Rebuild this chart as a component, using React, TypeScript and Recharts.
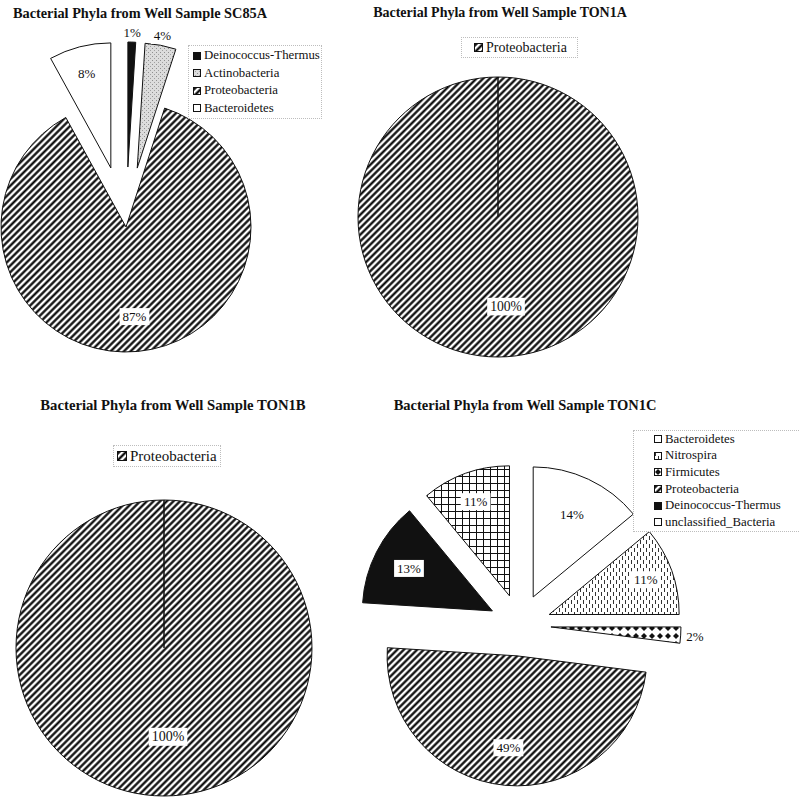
import React from "react";
import { PieChart, Pie, Cell, Legend } from "recharts";

const SERIF = "'Liberation Serif', 'Times New Roman', serif";

// sample SC85A
const sc85aPhyla = ["Deinococcus-Thermus", "Actinobacteria", "Proteobacteria", "Bacteroidetes"];
const sc85aPct = [1, 4, 87, 8];
// sample TON1A
const ton1aPhyla = ["Proteobacteria"];
const ton1aPct = [100];
// sample TON1B
const ton1bPhyla = ["Proteobacteria"];
const ton1bPct = [100];
// sample TON1C
const ton1cPhyla = [
  "Bacteroidetes",
  "Nitrospira",
  "Firmicutes",
  "Proteobacteria",
  "Deinococcus-Thermus",
  "unclassified_Bacteria",
];
const ton1cPct = [14, 11, 2, 49, 13, 11];

const phylumFill: Record<string, string> = {
  "Deinococcus-Thermus": "#111",
  Actinobacteria: "url(#pat-stipple)",
  Proteobacteria: "url(#pat-stripes)",
  Bacteroidetes: "#fff",
  Nitrospira: "url(#pat-vdash)",
  Firmicutes: "url(#pat-diamond)",
  unclassified_Bacteria: "url(#pat-grid)",
};

type Panel = {
  id: string;
  title: string;
  titleX: number;
  titleY: number;
  titleSize: number;
  names: string[];
  values: number[];
  cx: number;
  cy: number;
  r: number;
  explode: number[];
  labelAt: number[];
  labelShift: number;
  labelSize: number;
  legend: { left: number; top: number; width: number; font: number; row: number; swatch: number; padL: number; padT: number };
};

const panels: Panel[] = [
  {
    id: "sc85a",
    title: "Bacterial Phyla from Well Sample SC85A",
    titleX: 140,
    titleY: 13,
    titleSize: 14.3,
    names: sc85aPhyla,
    values: sc85aPct,
    cx: 126,
    cy: 227,
    r: 125,
    explode: [60, 60, 0, 61],
    labelAt: [1.08, 1.08, 0.72, 0.78],
    labelShift: 0,
    labelSize: 13,
    legend: { left: 188, top: 45, width: 134, font: 12.8, row: 17.5, swatch: 8, padL: 4, padT: 1 },
  },
  {
    id: "ton1a",
    title: "Bacterial Phyla from Well Sample TON1A",
    titleX: 500,
    titleY: 13,
    titleSize: 14,
    names: ton1aPhyla,
    values: ton1aPct,
    cx: 498,
    cy: 217,
    r: 140,
    explode: [0],
    labelAt: [0.64],
    labelShift: 8,
    labelSize: 13.6,
    legend: { left: 461, top: 37, width: 117, font: 14, row: 19, swatch: 9, padL: 12, padT: 0 },
  },
  {
    id: "ton1b",
    title: "Bacterial Phyla from Well Sample TON1B",
    titleX: 173,
    titleY: 405,
    titleSize: 14.7,
    names: ton1bPhyla,
    values: ton1bPct,
    cx: 164,
    cy: 648,
    r: 148,
    explode: [0],
    labelAt: [0.6],
    labelShift: 4,
    labelSize: 14,
    legend: { left: 113, top: 445, width: 108, font: 15, row: 20, swatch: 10, padL: 3, padT: 0 },
  },
  {
    id: "ton1c",
    title: "Bacterial Phyla from Well Sample TON1C",
    titleX: 525,
    titleY: 405,
    titleSize: 14.5,
    names: ton1cPhyla,
    values: ton1cPct,
    cx: 520,
    cy: 625,
    r: 130,
    explode: [31, 31, 31, 31, 31, 31],
    labelAt: [0.7, 0.79, 1.11, 0.71, 0.72, 0.77],
    labelShift: 0,
    labelSize: 13,
    legend: { left: 633, top: 430, width: 170, font: 12.8, row: 16.6, swatch: 8, padL: 20, padT: 0 },
  },
];

const RAD = Math.PI / 180;

function LegendBox({ p }: { p: Panel }) {
  const L = p.legend;
  return (
    <div
      style={{
        border: "1px dotted #bdbdbd",
        padding: `${L.padT}px 2px ${L.padT}px ${L.padL}px`,
        background: "#fff",
        fontFamily: SERIF,
        fontSize: L.font,
        color: "#111",
        boxSizing: "border-box",
        width: L.width,
      }}
    >
      {p.names.map((n) => (
        <div key={n} style={{ display: "flex", alignItems: "center", height: L.row, whiteSpace: "nowrap" }}>
          <svg width={L.swatch} height={L.swatch} style={{ marginRight: 3, flex: "none" }}>
            <rect x={0.5} y={0.5} width={L.swatch - 1} height={L.swatch - 1} fill={phylumFill[n]} stroke="#111" />
          </svg>
          {n}
        </div>
      ))}
    </div>
  );
}

function SampleChart({ p }: { p: Panel }) {
  const total = p.values.reduce((a, b) => a + b, 0);
  const data = p.names.map((name, i) => ({ name, value: p.values[i] }));
  let acc = 0;
  const mids = p.values.map((v) => {
    const m = ((acc + v / 2) / total) * 360;
    acc += v;
    return m;
  });

  const makeLabel = (slice: number) => (props: any) => {
    const idx = props.index ?? p.names.indexOf(props.name);
    if (idx !== slice) return null;
    const dist = props.outerRadius * p.labelAt[slice];
    const x = props.cx + dist * Math.cos(-props.midAngle * RAD) + p.labelShift;
    const y = props.cy + dist * Math.sin(-props.midAngle * RAD);
    const text = `${props.value}%`;
    // digits ~0.5em, percent sign ~0.83em, plus a little padding
    const w = ((text.length - 1) * 0.5 + 0.83) * p.labelSize + 6;
    const h = p.labelSize + 4;
    return (
      <g key={`lbl-${slice}`}>
        <rect x={x - w / 2} y={y - h / 2} width={w} height={h} fill="#fff" />
        <text
          x={x}
          y={y}
          textAnchor="middle"
          dominantBaseline="central"
          fontFamily={SERIF}
          fontSize={p.labelSize}
          fill="#111"
        >
          {text}
        </text>
      </g>
    );
  };

  return (
    <div style={{ position: "absolute", left: 0, top: 0 }}>
      <PieChart width={800} height={798} margin={{ top: 0, right: 0, bottom: 0, left: 0 }}>
        {p.names.map((_, s) => (
          <Pie
            key={s}
            data={data}
            dataKey="value"
            nameKey="name"
            cx={p.cx + p.explode[s] * Math.sin(mids[s] * RAD)}
            cy={p.cy - p.explode[s] * Math.cos(mids[s] * RAD)}
            outerRadius={p.r}
            startAngle={90}
            endAngle={-270}
            labelLine={false}
            label={makeLabel(s)}
            isAnimationActive={false}
            legendType="none"
          >
            {data.map((d, j) => (
              <Cell
                key={d.name}
                fill={j === s ? phylumFill[d.name] : "none"}
                stroke={j === s ? "#111" : "none"}
                strokeWidth={1}
              />
            ))}
          </Pie>
        ))}
        <Legend
          layout="vertical"
          align="right"
          verticalAlign="middle"
          content={() => <LegendBox p={p} />}
          wrapperStyle={{ left: p.legend.left, top: p.legend.top, right: "auto", width: p.legend.width }}
        />
      </PieChart>
      <div
        style={{
          position: "absolute",
          left: p.titleX - 200,
          top: p.titleY - 10,
          width: 400,
          lineHeight: "20px",
          textAlign: "center",
          fontFamily: SERIF,
          fontWeight: "bold",
          fontSize: p.titleSize,
          color: "#111",
          whiteSpace: "nowrap",
        }}
      >
        {p.title}
      </div>
    </div>
  );
}

export default function App() {
  return (
    <div style={{ position: "absolute", left: 0, top: 0, width: 800, height: 798, background: "#fff", overflow: "hidden" }}>
      <svg width={0} height={0} style={{ position: "absolute" }}>
        <defs>
          <pattern id="pat-stripes" patternUnits="userSpaceOnUse" width={4.7} height={4.7} patternTransform="rotate(45)">
            <rect width={4.7} height={4.7} fill="#fff" />
            <line x1={2.35} y1={0} x2={2.35} y2={4.7} stroke="#000" strokeWidth={2.2} />
          </pattern>
          <pattern id="pat-stipple" patternUnits="userSpaceOnUse" width={4} height={4}>
            <rect width={4} height={4} fill="#dcdcdc" />
            <rect x={0} y={0} width={1} height={1} fill="#8f8f8f" />
            <rect x={2} y={2} width={1} height={1} fill="#a0a0a0" />
          </pattern>
          <pattern id="pat-vdash" patternUnits="userSpaceOnUse" width={6} height={8}>
            <rect width={6} height={8} fill="#fff" />
            <line x1={1.5} y1={0} x2={1.5} y2={4} stroke="#333" strokeWidth={1} />
            <line x1={4.5} y1={4} x2={4.5} y2={8} stroke="#333" strokeWidth={1} />
          </pattern>
          <pattern id="pat-diamond" patternUnits="userSpaceOnUse" width={8} height={8}>
            <rect width={8} height={8} fill="#fff" />
            <polygon points="4,1 7,4 4,7 1,4" fill="#111" />
          </pattern>
          <pattern id="pat-grid" patternUnits="userSpaceOnUse" width={7} height={7}>
            <rect width={7} height={7} fill="#fff" />
            <path d="M0,0.5 H7 M0.5,0 V7" stroke="#111" strokeWidth={1} />
          </pattern>
        </defs>
      </svg>
      {panels.map((p) => (
        <SampleChart key={p.id} p={p} />
      ))}
    </div>
  );
}
